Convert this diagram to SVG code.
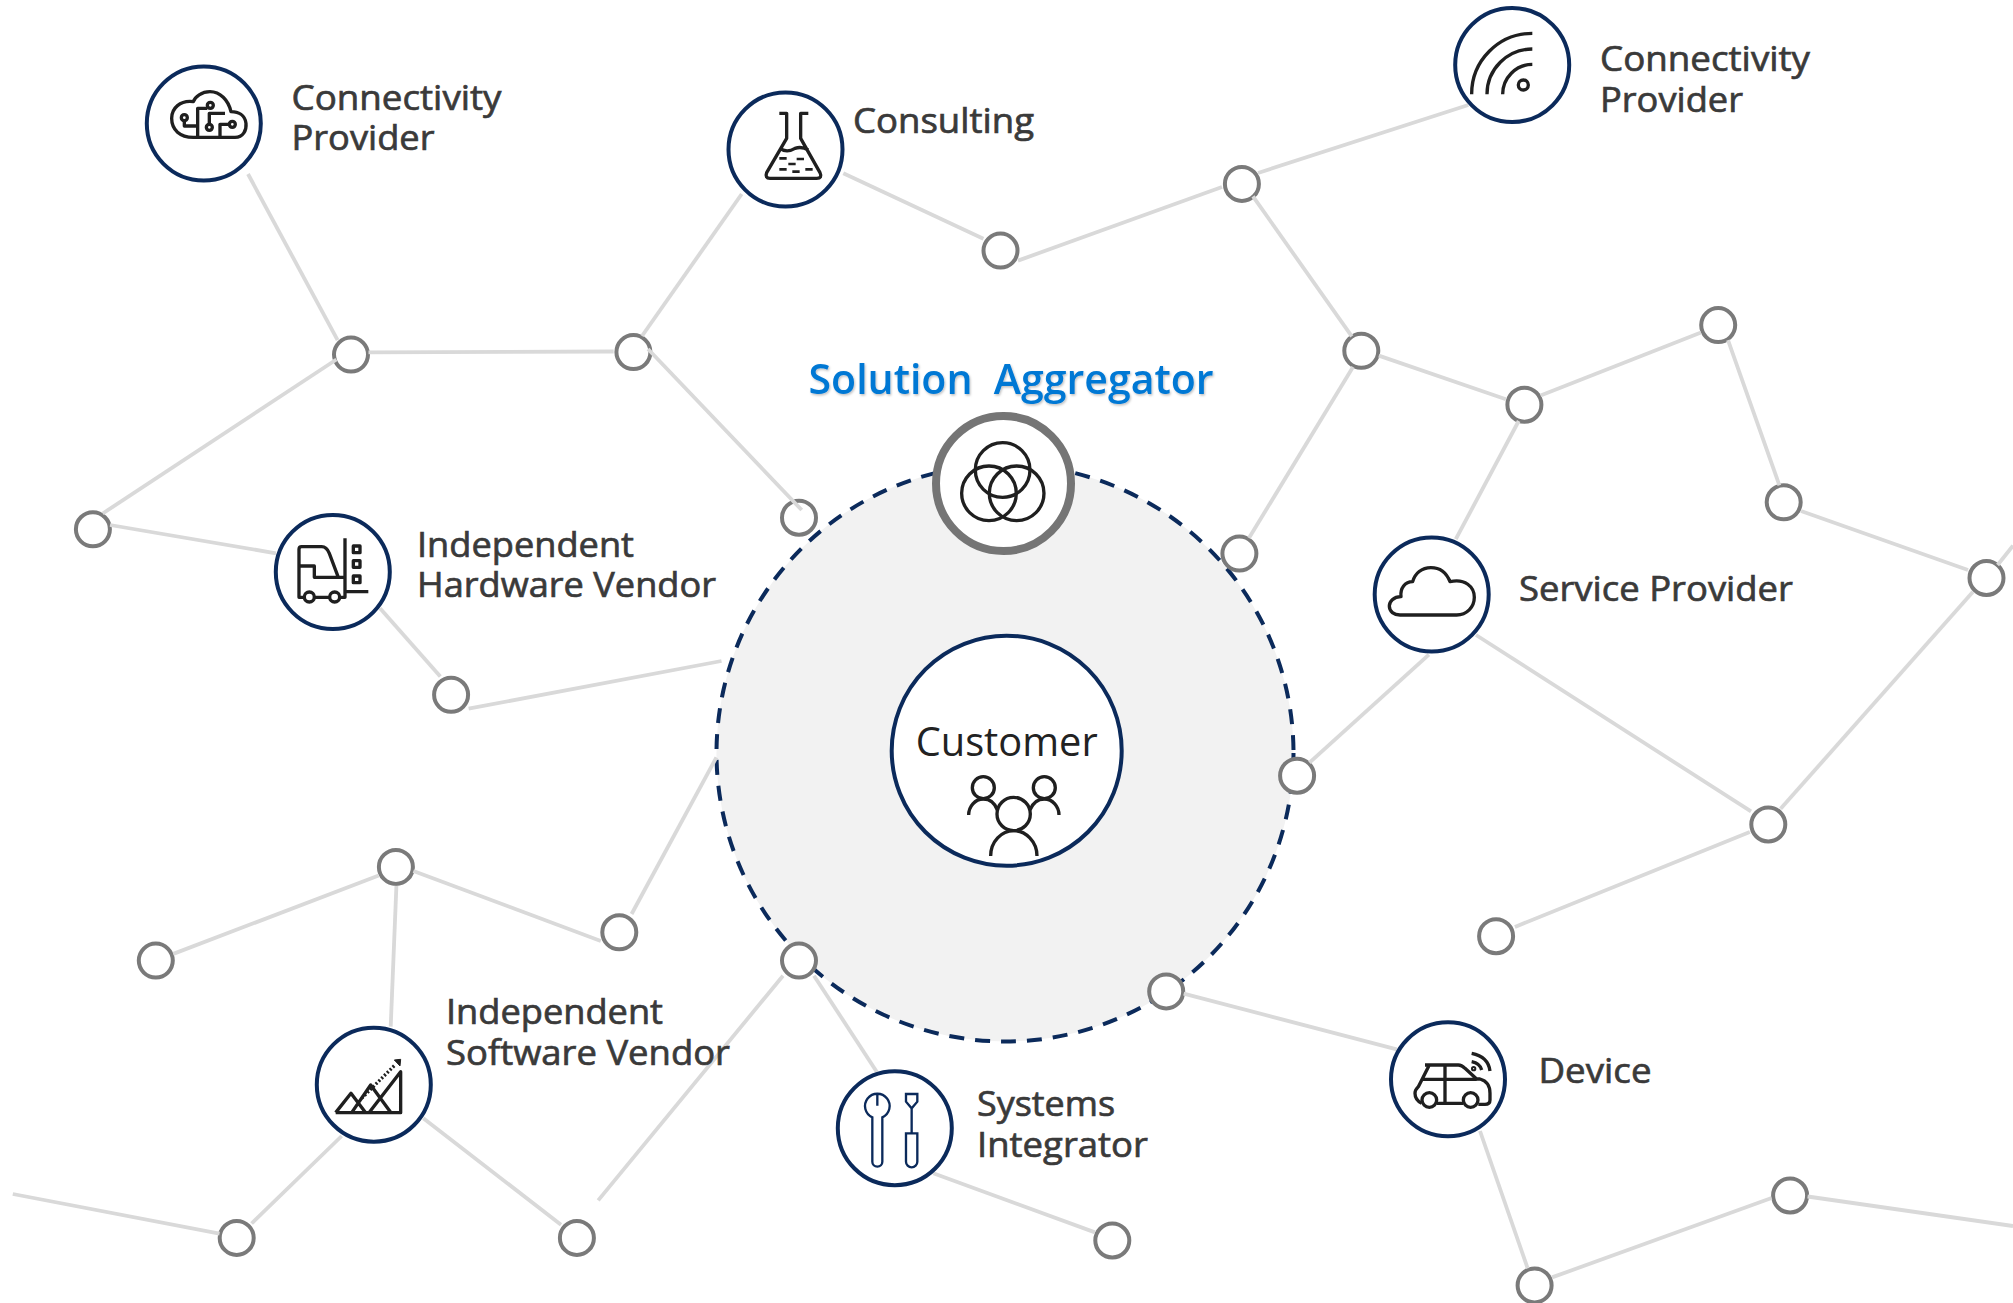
<svg xmlns="http://www.w3.org/2000/svg" width="2013" height="1303" viewBox="0 0 2013 1303">
<style>
text{font-family:"Open Sans","Noto Sans","Liberation Sans",sans-serif}
.lab{font-size:35px;fill:#3a3a3a;font-weight:500;stroke:#3a3a3a;stroke-width:.7}
.sol{font-size:41px;fill:#0078d4;font-weight:600;white-space:pre}
.cust{font-size:41px;fill:#222;font-weight:400}
.ring{fill:#fff;stroke:#0b2a5b;stroke-width:4}
.hub{fill:#fff;stroke:#7a7a7a;stroke-width:4}
.edge{stroke:#d9d9d9;stroke-width:3.8;fill:none}
.ic{fill:none;stroke:#1f1f1f;stroke-width:10;stroke-linejoin:round}
.navy{fill:none;stroke:#0b2a5b;stroke-width:7}
</style>
<defs>
<filter id="soft" x="-5%" y="-20%" width="110%" height="140%"><feDropShadow dx="1" dy="1.5" stdDeviation="1.2" flood-color="#000" flood-opacity="0.25"/></filter>
</defs>
<g id="customer-zone"><circle cx="1005" cy="753" r="288.5" fill="#f2f2f2" stroke="#0b2a5b" stroke-width="4" stroke-dasharray="15 11"/></g>
<g id="hub-nodes" transform="translate(.5 .3)">
<g id="h1"><circle class="hub" cx="350.5" cy="354.3" r="17"/></g>
<g id="h2"><circle class="hub" cx="632.9" cy="351.8" r="17"/></g>
<g id="h3"><circle class="hub" cx="92.4" cy="529" r="17"/></g>
<g id="h4"><circle class="hub" cx="798.5" cy="517.4" r="17"/></g>
<g id="h5"><circle class="hub" cx="450.6" cy="694.5" r="17"/></g>
<g id="h6"><circle class="hub" cx="1000" cy="250.3" r="17"/></g>
<g id="h7"><circle class="hub" cx="1241.4" cy="183.6" r="17"/></g>
<g id="h8"><circle class="hub" cx="1360.8" cy="350.5" r="17"/></g>
<g id="h9"><circle class="hub" cx="1523.9" cy="404.4" r="17"/></g>
<g id="h10"><circle class="hub" cx="1717.7" cy="324.8" r="17"/></g>
<g id="h11"><circle class="hub" cx="1783.2" cy="502" r="17"/></g>
<g id="h12"><circle class="hub" cx="1238.9" cy="553.3" r="17"/></g>
<g id="h13"><circle class="hub" cx="1986" cy="577.7" r="17"/></g>
<g id="h14"><circle class="hub" cx="1296.6" cy="775.4" r="17"/></g>
<g id="h15"><circle class="hub" cx="1767.8" cy="824.2" r="17"/></g>
<g id="h16"><circle class="hub" cx="1495.6" cy="935.9" r="17"/></g>
<g id="h17"><circle class="hub" cx="395.4" cy="866.6" r="17"/></g>
<g id="h18"><circle class="hub" cx="155.3" cy="960.3" r="17"/></g>
<g id="h19"><circle class="hub" cx="618.8" cy="932" r="17"/></g>
<g id="h20"><circle class="hub" cx="798.5" cy="960.3" r="17"/></g>
<g id="h21"><circle class="hub" cx="1165.7" cy="991.1" r="17"/></g>
<g id="h22"><circle class="hub" cx="236.2" cy="1237.6" r="17"/></g>
<g id="h23"><circle class="hub" cx="576.4" cy="1237.6" r="17"/></g>
<g id="h24"><circle class="hub" cx="1111.8" cy="1240.2" r="17"/></g>
<g id="h25"><circle class="hub" cx="1789.6" cy="1195.2" r="17"/></g>
<g id="h26"><circle class="hub" cx="1534.1" cy="1285.1" r="17"/></g>
</g>
<g id="connectors" class="edge">
<line x1="248" y1="174" x2="337.6" y2="340.2"/>
<line x1="368.5" y1="352.4" x2="613.7" y2="351.5"/>
<line x1="336.4" y1="359.5" x2="102.7" y2="513.5"/>
<line x1="110" y1="525" x2="276" y2="553.3"/>
<line x1="741.7" y1="194" x2="642" y2="336"/>
<line x1="648" y1="349" x2="801.7" y2="510"/>
<line x1="380" y1="608.3" x2="440.3" y2="676.6"/>
<line x1="468.6" y1="708.7" x2="721.5" y2="661"/>
<line x1="843.3" y1="173.3" x2="983.4" y2="238.8"/>
<line x1="1018" y1="260.6" x2="1222" y2="187"/>
<line x1="1258" y1="173" x2="1468.3" y2="105"/>
<line x1="1253" y1="196.4" x2="1351.8" y2="336.4"/>
<line x1="1378.8" y1="355.6" x2="1505.9" y2="399.3"/>
<line x1="1540.6" y1="395.4" x2="1701" y2="332.5"/>
<line x1="1728" y1="340.2" x2="1779.4" y2="485.3"/>
<line x1="1801" y1="511" x2="1968" y2="570"/>
<line x1="1353" y1="367" x2="1249" y2="538"/>
<line x1="1518.7" y1="421" x2="1455.8" y2="539.2"/>
<line x1="1428.9" y1="654.7" x2="1309.5" y2="762.6"/>
<line x1="1476" y1="635" x2="1751" y2="811.4"/>
<line x1="1973" y1="591.8" x2="1780.6" y2="808.8"/>
<line x1="1749.8" y1="831.9" x2="1514.9" y2="926.9"/>
<line x1="2013" y1="545.6" x2="1997.6" y2="565"/>
<line x1="396.4" y1="885.8" x2="390.7" y2="1026.7"/>
<line x1="378.7" y1="875.5" x2="173.3" y2="953.9"/>
<line x1="413.4" y1="871" x2="600.8" y2="941"/>
<line x1="716.4" y1="757.4" x2="631.6" y2="914"/>
<line x1="814" y1="975.7" x2="876.7" y2="1071.7"/>
<line x1="783" y1="975.7" x2="598.2" y2="1200.4"/>
<line x1="1183.7" y1="993.6" x2="1396.7" y2="1049.3"/>
<line x1="933.3" y1="1173.3" x2="1095" y2="1232.4"/>
<line x1="423.3" y1="1118.3" x2="561" y2="1224.7"/>
<line x1="341.7" y1="1136" x2="251.6" y2="1223.5"/>
<line x1="219.5" y1="1233.7" x2="12.8" y2="1194"/>
<line x1="1480" y1="1131" x2="1527.7" y2="1268.4"/>
<line x1="1552" y1="1277.4" x2="1771.6" y2="1198"/>
<line x1="1807.6" y1="1196.5" x2="2013" y2="1226"/>
</g>
<g id="solution-aggregator">
<circle cx="1003.5" cy="483.5" r="67.5" fill="#fff" stroke="#757575" stroke-width="8"/>
<g class="ic" transform="translate(780 340) scale(.3333)"><circle cx="668" cy="390" r="82"/><circle cx="627" cy="460" r="82"/><circle cx="710" cy="460" r="82"/></g>
<text class="sol" x="808.5" y="393.5" textLength="405" lengthAdjust="spacingAndGlyphs" filter="url(#soft)">Solution  Aggregator</text>
</g>
<g id="customer">
<circle class="ring" cx="1006.7" cy="750.7" r="115"/>
<text class="cust" x="915.7" y="756" textLength="182" lengthAdjust="spacingAndGlyphs">Customer</text>
<g class="ic" transform="translate(860 620) scale(.3333)"><circle cx="370" cy="503" r="33"/><circle cx="553" cy="503" r="33"/><circle cx="461" cy="582" r="50"/><path d="M326,585C326,560 345,537 370,537C390,537 405,550 412,570M597,585C597,560 578,537 553,537C533,537 518,550 510,570M392,708C392,665 425,632 461,632C497,632 531,665 531,708"/></g>
</g>
<g id="connectivity-provider-left">
<circle class="ring" cx="203.8" cy="123.5" r="57"/>
<g class="ic" transform="translate(130 50) scale(.3333)"><path d="M190,262H315C340,262 350,240 348,220C345,195 325,185 303,185C295,150 270,125 240,125C215,125 195,140 190,155C150,150 125,175 125,205C125,240 150,262 190,262Z"/><circle cx="163" cy="203" r="9"/><circle cx="241" cy="166" r="9"/><circle cx="238" cy="232" r="9"/><circle cx="307" cy="223" r="9"/><path d="M163,212V228H198M203,262V175H232M238,222V190H285M298,223H270V262"/></g>
<text class="lab" x="291.5" y="109.5" textLength="210" lengthAdjust="spacingAndGlyphs">Connectivity</text>
<text class="lab" x="291.5" y="150" textLength="143" lengthAdjust="spacingAndGlyphs">Provider</text>
</g>
<g id="consulting">
<circle class="ring" cx="785.5" cy="149.5" r="57"/>
<g class="ic" transform="translate(700 70) scale(.3333)"><path d="M238,130H260V205L200,308Q194,325 210,325H350Q368,325 360,308L302,205V130H325M240,235Q260,250 285,235Q305,228 325,240"/><path stroke-width="8" d="M238,265H260M290,267H312M265,282H287M238,298H260M277,305H299M316,298H338"/></g>
<text class="lab" x="853" y="133" textLength="181" lengthAdjust="spacingAndGlyphs">Consulting</text>
</g>
<g id="connectivity-provider-right">
<circle class="ring" cx="1512.2" cy="65" r="57"/>
<g class="ic" transform="translate(1430 0) scale(.3333)"><circle cx="280" cy="255" r="15"/><path d="M125,283A182,182 0 0 1 307,100M171,283A136,136 0 0 1 307,147M218,283A90,90 0 0 1 307,193"/></g>
<text class="lab" x="1600" y="71" textLength="210" lengthAdjust="spacingAndGlyphs">Connectivity</text>
<text class="lab" x="1600" y="111.5" textLength="143" lengthAdjust="spacingAndGlyphs">Provider</text>
</g>
<g id="hardware-vendor">
<circle class="ring" cx="332.8" cy="572" r="57"/>
<g class="ic" transform="translate(260 500) scale(.3333)"><path d="M133,292H117V148Q117,140 125,140H185Q200,140 208,160L235,232M117,198H163V232H258M255,115V292H239M163,292H209M258,275H325"/><circle cx="148" cy="291" r="15"/><circle cx="224" cy="291" r="15"/><rect x="280" y="138" width="20" height="20"/><rect x="280" y="182" width="20" height="20"/><rect x="280" y="228" width="20" height="20"/></g>
<text class="lab" x="417" y="556.5" textLength="217" lengthAdjust="spacingAndGlyphs">Independent</text>
<text class="lab" x="417" y="597" textLength="299" lengthAdjust="spacingAndGlyphs">Hardware Vendor</text>
</g>
<g id="service-provider">
<circle class="ring" cx="1431.7" cy="594.5" r="57"/>
<g class="ic" transform="translate(1350 520) scale(.3333)"><path d="M150,285H320C350,285 373,262 373,232C373,200 345,175 300,185C290,160 270,143 243,143C215,143 195,160 188,185C165,185 150,205 153,230C130,230 118,245 118,258C118,275 132,285 150,285Z"/></g>
<text class="lab" x="1519" y="601" textLength="274" lengthAdjust="spacingAndGlyphs">Service Provider</text>
</g>
<g id="software-vendor">
<circle class="ring" cx="373.8" cy="1084.7" r="57"/>
<g class="ic" transform="translate(300 1010) scale(.3333)"><path d="M107,308H302V185L207,308M107,308L153,250L197,308M155,308L212,225L273,308"/><path d="M185,265L285,165" stroke-dasharray="6 6"/><path d="M283,150L302,148L300,168Z" fill="#1f1f1f" stroke-width="3"/></g>
<text class="lab" x="446" y="1024" textLength="217" lengthAdjust="spacingAndGlyphs">Independent</text>
<text class="lab" x="446" y="1064.5" textLength="284" lengthAdjust="spacingAndGlyphs">Software Vendor</text>
</g>
<g id="systems-integrator">
<circle class="ring" cx="894.8" cy="1128.2" r="57"/>
<g class="navy" transform="translate(820 1060) scale(.3333)"><path d="M157,172A37,37 0 1 1 187,172V305A15,15 0 0 1 157,305ZM172,103V137"/><path d="M258,102H292V125L275,145L258,125ZM275,145V218M258,220H292V305A17,17 0 0 1 258,305Z"/></g>
<text class="lab" x="977" y="1116" textLength="138" lengthAdjust="spacingAndGlyphs">Systems</text>
<text class="lab" x="977" y="1156.5" textLength="171" lengthAdjust="spacingAndGlyphs">Integrator</text>
</g>
<g id="device">
<circle class="ring" cx="1448" cy="1079.3" r="57"/>
<g class="ic" transform="translate(1380 1015) scale(.3333)"><path d="M135,150H235Q245,150 255,160L290,192H300Q330,200 330,235V255Q330,268 315,268H295M170,265H250M125,265Q105,255 105,235Q105,225 115,215L148,150M195,150V262M125,193H290"/><circle cx="148" cy="255" r="22"/><circle cx="272" cy="255" r="22"/><path d="M275,140Q300,145 305,165M275,115Q325,125 330,168"/><circle cx="281" cy="161" r="3"/></g>
<text class="lab" x="1538.5" y="1082.5" textLength="113" lengthAdjust="spacingAndGlyphs">Device</text>
</g>
</svg>
